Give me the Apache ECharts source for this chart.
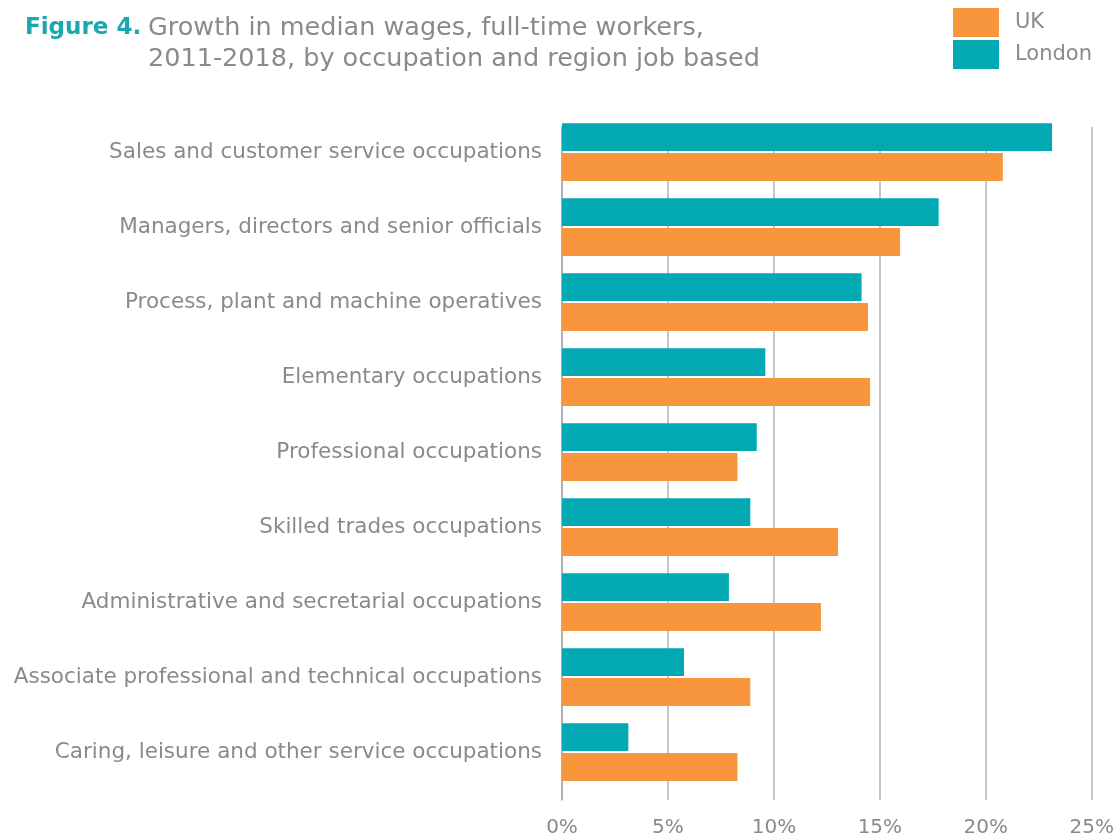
<!DOCTYPE html>
<html>
<head>
<meta charset="utf-8">
<script src="https://cdn.jsdelivr.net/npm/echarts@6/dist/echarts.min.js"></script>
<style>
  html, body { margin: 0; padding: 0; background: #fff; }
  #chart { width: 1117px; height: 838px; }
</style>
</head>
<body>
<div id="chart"></div>
<script>
// Occupations, top to bottom
const categories = [
  'Sales and customer service occupations',
  'Managers, directors and senior officials',
  'Process, plant and machine operatives',
  'Elementary occupations',
  'Professional occupations',
  'Skilled trades occupations',
  'Administrative and secretarial occupations',
  'Associate professional and technical occupations',
  'Caring, leisure and other service occupations'
];
// Growth in median wages 2011-2018, %
const londonValues = [22.9, 17.6, 14.0, 9.5, 9.1, 8.8, 7.8, 5.7, 3.1];
const ukValues = [20.6, 15.8, 14.3, 14.4, 8.2, 12.9, 12.1, 8.8, 8.2];
// Value axis ticks
const axisMin = 0;
const axisMax = 25;
const axisStep = 5;

const TEAL = '#02A9B2';
const ORANGE = '#F7963C';
const GREY = '#8A8A8A';
const FONT = 'DejaVu Sans';

const chart = echarts.init(document.getElementById('chart'));
chart.setOption({
  animation: false,
  textStyle: { fontFamily: FONT },
  title: [
    {
      text: 'Figure 4.',
      left: 25, top: 13, padding: 0,
      textStyle: { color: '#17A8B0', fontSize: 23, fontWeight: 'bold', lineHeight: 31, fontFamily: FONT }
    },
    {
      text: 'Growth in median wages, full-time workers,\n2011-2018, by occupation and region job based',
      left: 148, top: 13, padding: 0,
      textStyle: { color: GREY, fontSize: 25.5, fontWeight: 'normal', lineHeight: 31, fontFamily: FONT }
    }
  ],
  legend: {
    data: ['UK', 'London'],
    orient: 'vertical',
    left: 953, top: 8, padding: 0,
    icon: 'rect',
    itemWidth: 46, itemHeight: 29, itemGap: 3,
    textStyle: { color: GREY, fontSize: 21, padding: [8, 0, 0, 11] }
  },
  grid: [
    // gridlines and tick labels
    { left: 562, right: 20, top: 127, bottom: 38 },
    // bars and category labels
    { left: 562, right: 20, top: 114.5, bottom: 48.5 }
  ],
  xAxis: [
    {
      gridIndex: 0, type: 'value', min: axisMin, max: axisMax, interval: axisStep,
      axisLine: { show: false }, axisTick: { show: false },
      splitLine: { lineStyle: { color: '#B3B3B3', width: 1.5 } },
      axisLabel: { formatter: '{value}%', color: GREY, fontSize: 20, margin: 18 }
    },
    {
      gridIndex: 1, type: 'value', min: axisMin, max: axisMax, interval: axisStep,
      show: false, splitLine: { show: false }
    }
  ],
  yAxis: [
    {
      gridIndex: 0, type: 'value', min: 0, max: 1,
      axisLine: { show: true, lineStyle: { color: '#A8A8A8', width: 1.5 } },
      axisTick: { show: false }, axisLabel: { show: false }, splitLine: { show: false }
    },
    {
      gridIndex: 1, type: 'category', data: categories, inverse: true,
      axisLine: { show: false }, axisTick: { show: false },
      axisLabel: { color: GREY, fontSize: 21.5, margin: 20, padding: [4, 0, 0, 0] }
    }
  ],
  series: [
    {
      name: 'London', type: 'bar', xAxisIndex: 1, yAxisIndex: 1,
      data: londonValues, itemStyle: { color: TEAL },
      barCategoryGap: '23%', barGap: '7%'
    },
    {
      name: 'UK', type: 'bar', xAxisIndex: 1, yAxisIndex: 1,
      data: ukValues, itemStyle: { color: ORANGE },
      barCategoryGap: '23%', barGap: '7%'
    }
  ]
});
</script>
</body>
</html>
